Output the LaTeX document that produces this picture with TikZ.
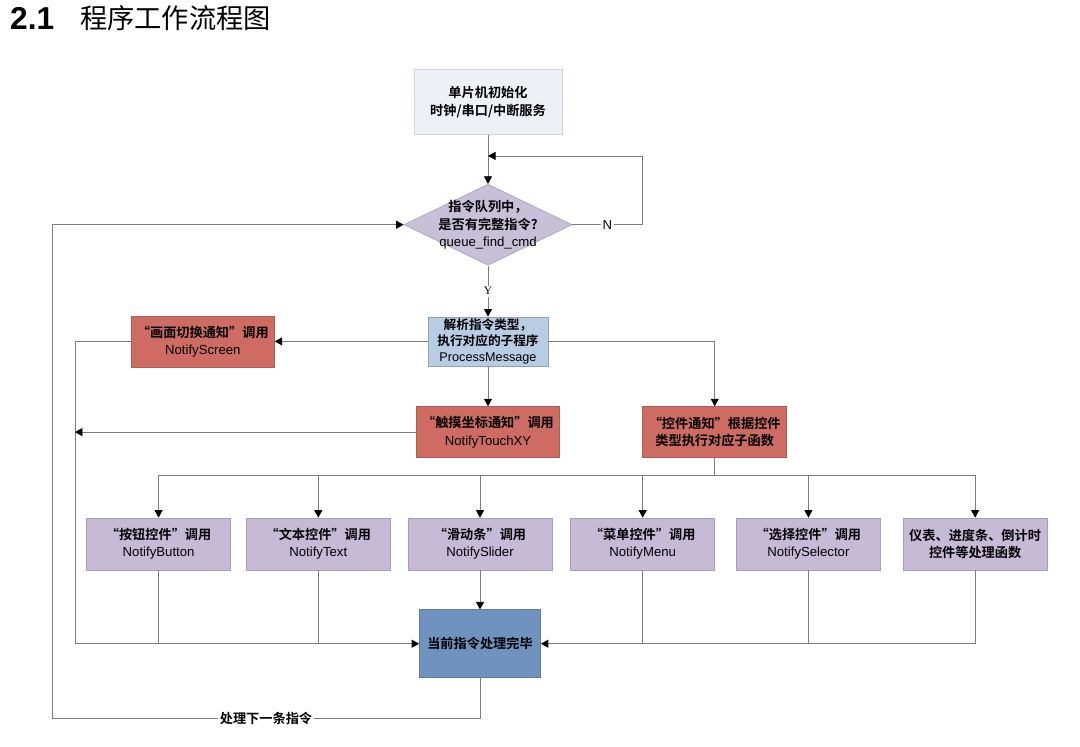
\documentclass[tikz,border=0pt]{standalone}
\usepackage{fontspec}
\setmainfont{Liberation Sans}
\newfontfamily\cjk[BoldFont={Noto Sans CJK SC Bold}]{Noto Sans CJK SC}
\newfontfamily\serifY{Liberation Serif}
\usetikzlibrary{positioning,arrows.meta,calc,shapes.geometric}
\definecolor{initfill}{RGB}{237,241,246}
\definecolor{initline}{RGB}{208,214,224}
\definecolor{decfill}{RGB}{200,192,216}
\definecolor{procfill}{RGB}{184,204,228}
\definecolor{evtfill}{RGB}{206,108,100}
\definecolor{fnfill}{RGB}{198,186,214}
\definecolor{donefill}{RGB}{112,146,190}
\definecolor{wire}{RGB}{125,125,125}
\newcommand{\nfont}{\fontsize{7.5}{9.8}\selectfont}
\newcommand{\latn}[1]{{\rmfamily\mdseries #1}}
\tikzset{
  base/.style    ={align=center, font=\nfont\cjk\bfseries, inner sep=1pt, line width=0.4pt},
  initbox/.style ={base, draw=initline, fill=initfill, minimum width=29.6mm, minimum height=13mm},
  decbox/.style  ={base, diamond, draw=decfill!85!black, fill=decfill, inner sep=0pt,
                   minimum width=33.6mm, minimum height=16.2mm},
  procbox/.style ={base, draw=procfill!80!black, fill=procfill, minimum width=24mm, minimum height=9.8mm,
                   font=\fontsize{7.2}{8.9}\selectfont\cjk\bfseries, inner sep=0.5pt},
  evtbox/.style  ={base, draw=evtfill!85!black, fill=evtfill, minimum width=28.6mm, minimum height=10.2mm},
  fnbox/.style   ={base, draw=fnfill!85!black, fill=fnfill, minimum width=28.8mm, minimum height=10.4mm},
  donebox/.style ={base, draw=donefill!85!black, fill=donefill, minimum width=24.2mm, minimum height=13.6mm},
  ln/.style      ={draw=wire, line width=0.45pt},
  ar/.style      ={ln, -{Triangle[length=1.5mm,width=1.6mm,color=black]}},
  tag/.style     ={fill=white, inner sep=1pt, font=\nfont},
}

\begin{document}
\begin{tikzpicture}[x=0.2mm, y=-0.2mm, node distance=8mm and 3.6mm]
\useasboundingbox (0,0) rectangle (1080,746);
\node[anchor=west, font=\fontsize{18}{20}\selectfont\bfseries] (secno) at (4,18) {2.1};
\node[anchor=west, font=\fontsize{15.5}{18}\selectfont\cjk] (sectitle) at (74,18) {程序工作流程图};

\node[initbox] (init) at (488,102) {单片机初始化\\时钟/串口/中断服务};
\node[decbox, below=9.8mm of init,
      label={[base]center:{指令队列中，\\是否有完整指令?\\\latn{queue\_find\_cmd}}}] (dec) {};
\node[procbox, below=10.2mm of dec] (proc) {解析指令类型，\\执行对应的子程序\\\latn{ProcessMessage}};
\node[evtbox, left=30.6mm of proc] (screen) {“画面切换通知”调用\\\latn{NotifyScreen}};
\node[evtbox, below=8mm of proc] (touch) {“触摸坐标通知”调用\\\latn{NotifyTouchXY}};
\node[evtbox, right=16.5mm of touch, minimum width=28.8mm] (ctrl) {“控件通知”根据控件\\类型执行对应子函数};

\node[fnbox] (slider) at (480,544) {“滑动条”调用\\\latn{NotifySlider}};
\node[fnbox, left=3.4mm of slider] (text) {“文本控件”调用\\\latn{NotifyText}};
\node[fnbox, left=3mm of text] (button) {“按钮控件”调用\\\latn{NotifyButton}};
\node[fnbox, right=3.6mm of slider] (menu) {“菜单控件”调用\\\latn{NotifyMenu}};
\node[fnbox, right=4.2mm of menu] (selector) {“选择控件”调用\\\latn{NotifySelector}};
\node[fnbox, right=4.4mm of selector] (gauge) {仪表、进度条、倒计时\\控件等处理函数};
\node[donebox, below=7.8mm of slider] (done) {当前指令处理完毕};

\coordinate (nloop) at ($(init.south)!0.43!(dec.north)$);
\coordinate (rail) at ($(screen.west)+(-11.2mm,0)$);
\coordinate (bus) at ($(ctrl.south)+(0,-3.4mm)$);
\coordinate (ret) at (52,718);

\draw[ar] (init) -- (dec);
\draw[ar] (dec.east) -- ++(14mm,0) node[midway,tag] {N} |- (nloop);
\draw[ar] (dec) -- node[tag,font=\fontsize{6.5}{8}\selectfont\serifY] {Y} (proc);
\draw[ar] (proc) -- (screen);
\draw[ar] (proc) -- (touch);
\draw[ar] (proc.east) -| (ctrl.north);
\draw[ar] (screen.west) -- (rail) |- (done.west);
\draw[ar] (touch.west) -- (touch.west -| rail);
\draw[ln] (ctrl.south) -- (bus);
\draw[ln] (button.north |- bus) -- (gauge.north |- bus);
\foreach \n in {button,text,slider,menu,selector,gauge}
  \draw[ar] (\n.north |- bus) -- (\n.north);
\foreach \n in {button,text}
  \draw[ln] (\n.south) -- (\n.south |- done.west);
\foreach \n in {menu,selector}
  \draw[ln] (\n.south) -- (\n.south |- done.east);
\draw[ar] (slider) -- (done);
\draw[ar] (gauge.south) |- (done.east);
\draw[ar] (done.south) |- (ret) node[pos=0.75,tag,font=\nfont\cjk\bfseries] {处理下一条指令} |- (dec.west);
\end{tikzpicture}
\end{document}
